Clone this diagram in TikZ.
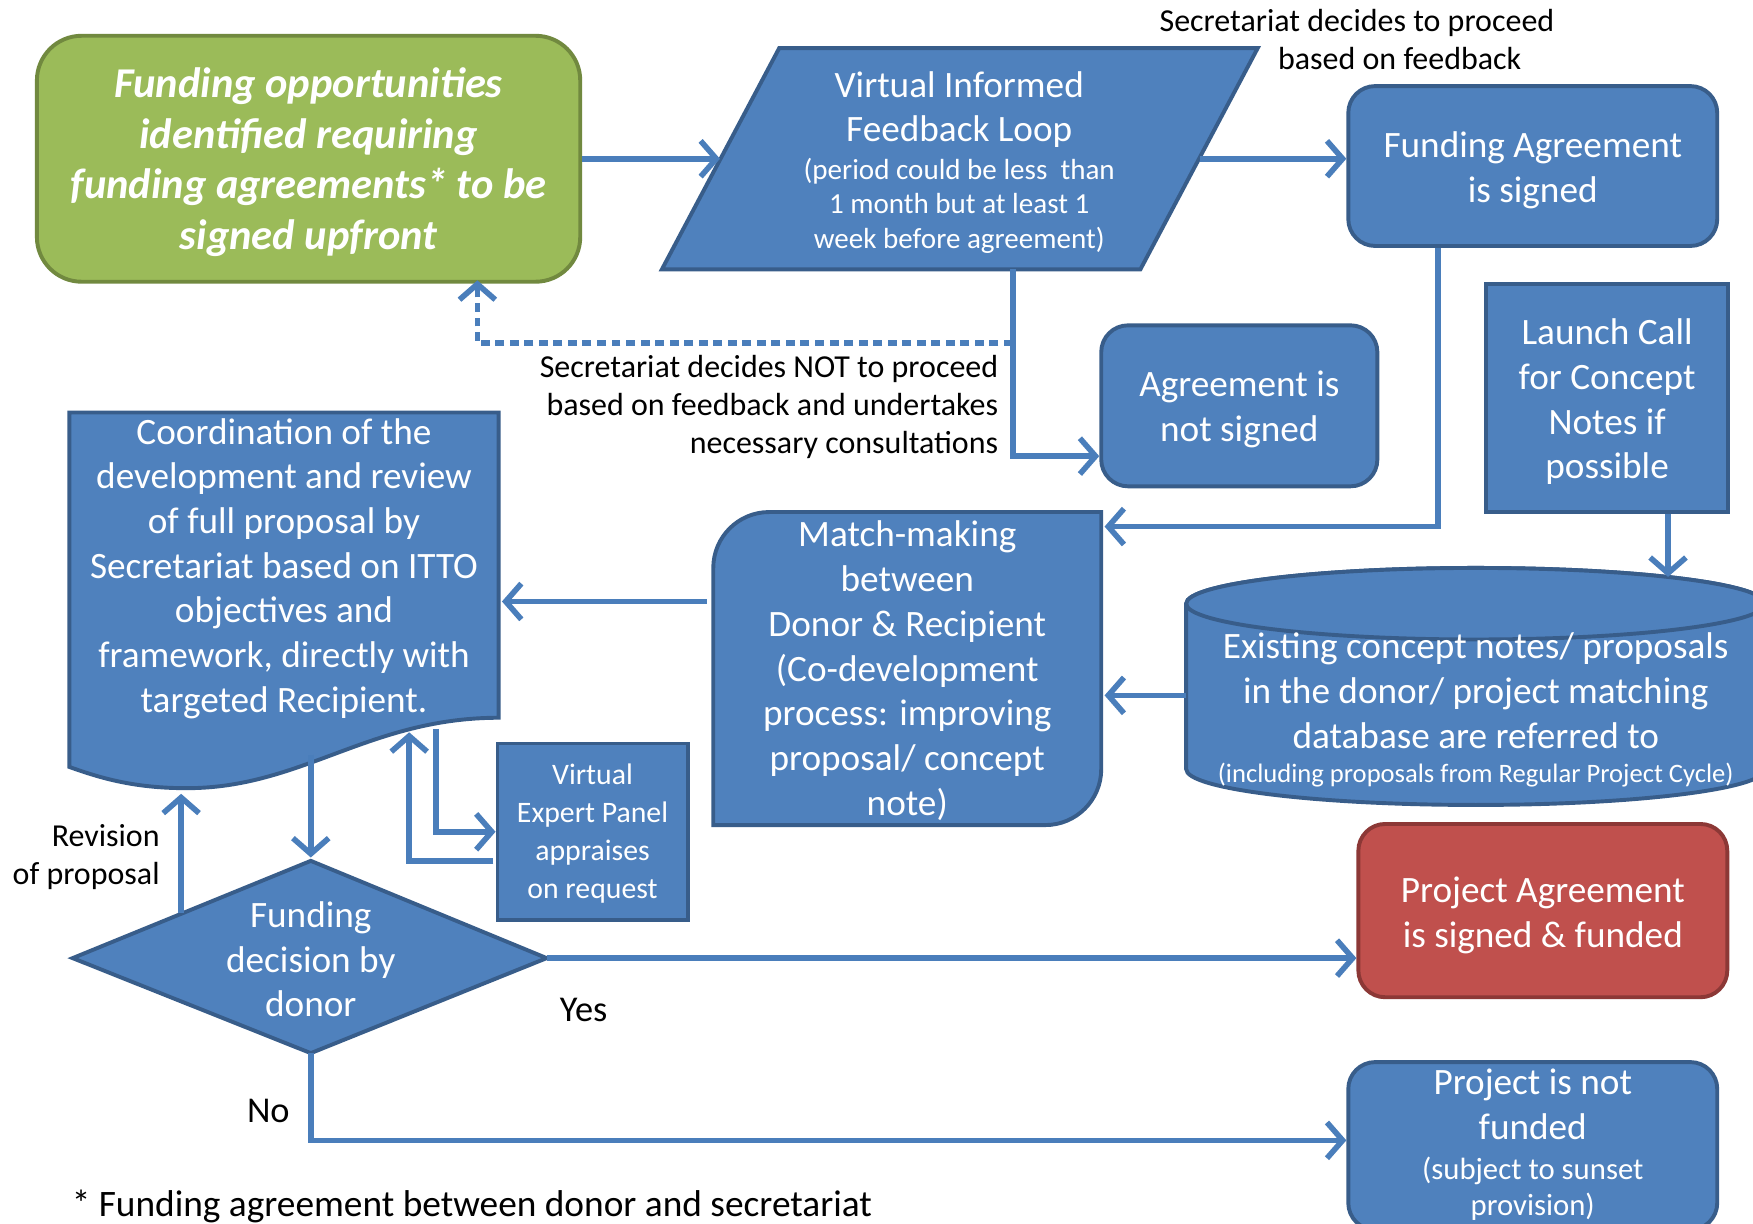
\documentclass[tikz,border=0pt]{standalone}
\usepackage{fontspec}
\setmainfont{Carlito}
\usetikzlibrary{arrows.meta,calc}
\definecolor{bfill}{HTML}{4F81BD}
\definecolor{bline}{HTML}{385D8A}
\definecolor{gfill}{HTML}{9BBB59}
\definecolor{gline}{HTML}{71893F}
\definecolor{rfill}{HTML}{C0504D}
\definecolor{rline}{HTML}{8C3836}
\definecolor{cline}{HTML}{4A7EBB}
\begin{document}
\begin{tikzpicture}[x=1pt,y=-1pt,
  shp/.style={draw=bline, fill=bfill, line width=3.5pt},
  box/.style={shp, text=white, align=center, inner sep=0pt},
  rbox/.style={box, rounded corners=24pt},
  big/.style={font=\fontsize{33.3}{40}\selectfont},
  wtxt/.style={text=white, align=center, inner sep=0pt},
  lbl/.style={text=black, inner sep=0pt, font=\fontsize{28.6}{34}\selectfont},
  conn/.style={draw=cline, line width=5pt, -{Straight Barb[length=14pt,width=32pt]}},
  dots/.style={conn, dash pattern=on 8pt off 5pt},
]
\fill[white] (0,0) rectangle (1568,1094);
\useasboundingbox (0,0) rectangle (1568,1094);
\clip (0,0) rectangle (1568,1094);

% green start box
\node[rbox, draw=gline, fill=gfill, rounded corners=40pt, minimum width=486pt, minimum height=220pt] (g) at (276,142) {};
\node[wtxt, font=\fontsize{38}{45.5}\selectfont\bfseries\itshape] (gt) at (276,145)
  {Funding opportunities\\identified requiring\\funding agreements* to be\\signed upfront};

% parallelogram
\draw[shp] (697,43) -- (1125,43) -- (1020,241) -- (592,241) -- cycle;
\node[wtxt, big] (pl) at (858,98) {Virtual Informed\\Feedback Loop};
\node[wtxt, font=\fontsize{26}{31}\selectfont] (pls) at (858,184)
  {(period could be less\ \ than\\1 month but at least 1\\week before agreement)};
\coordinate (plW) at (644,142);
\coordinate (plE) at (1073,142);
\coordinate (plS) at (906,241);
\coordinate (dj) at (906,307);

\node[lbl, align=left, anchor=north west] (lt) at (1037,8)
  {Secretariat decides to proceed\\\hspace*{106pt}based on feedback};
\node[lbl, align=right, anchor=east] (lno) at (893,364)
  {Secretariat decides NOT to proceed\\based on feedback and undertakes\\necessary consultations};

\node[rbox, minimum width=330pt, minimum height=143pt] (fa) at (1371,148.5) {};
\node[wtxt, big] (fat) at (1371,152.5) {Funding Agreement\\is signed};
\node[rbox, minimum width=247pt, minimum height=144pt] (ns) at (1108.5,363) {};
\node[wtxt, big] (nst) at (1108.5,366.5) {Agreement is\\not signed};
\node[box, minimum width=217pt, minimum height=204pt] (lc) at (1437.5,356) {};
\node[wtxt, big] (lct) at (1437.5,359.5) {Launch Call\\for Concept\\Notes if\\possible};

% cylinder
\draw[shp] (1061,540) -- (1061,688) arc[start angle=180, end angle=0, x radius=259, y radius=32]
  -- (1579,540) arc[start angle=0, end angle=-180, x radius=259, y radius=32] -- cycle;
\draw[shp] (1320,540) ellipse[x radius=259, y radius=32];
\node[wtxt, big] (db) at (1320,618) {Existing concept notes/ proposals\\in the donor/ project matching\\database are referred to};
\node[wtxt, font=\fontsize{23.8}{26}\selectfont] (dbs) at (1320,693) {(including proposals from Regular Project Cycle)};
\coordinate (dbW) at (1061,622);
\coordinate (dbTop) at (1492,516);

% match-making
\draw[shp] (638,738) [rounded corners=50pt]-- (638,458) [sharp corners]-- (985,458)
  [rounded corners=50pt]-- (985,738) [sharp corners]-- cycle;
\node[wtxt, big] (mm) at (811.5,600) {Match-making\\between\\Donor \& Recipient\\(Co-development\\process: improving\\proposal/ concept\\note)};
\coordinate (mmE1) at (988,471);
\coordinate (mmE2) at (988,622);
\coordinate (mmW) at (632,538);

% coordination document
\draw[shp] (62,369) -- (446,369) -- (446,642) .. controls (330,642) and (270,705) .. (167,705)
  .. controls (120,705) and (90,696) .. (62,686) -- cycle;
\node[wtxt, big] (cd) at (254,508.5) {Coordination of the\\development and review\\of full proposal by\\Secretariat based on ITTO\\objectives and\\framework, directly with\\targeted Recipient.};
\coordinate (cdE) at (449,538);
\coordinate (cdB1) at (278,675);
\coordinate (cdB2) at (162,710);
\coordinate (cdB3) at (390,652);
\coordinate (cdB4) at (366,655);

\node[box, minimum width=170pt, minimum height=158pt] (ep) at (530,744) {};
\node[wtxt, font=\fontsize{26.6}{34}\selectfont] (ept) at (530,746)
  {Virtual\\Expert Panel\\appraises\\on request};

% diamond
\draw[shp] (278,770) -- (489,857) -- (278,942) -- (65,857) -- cycle;
\node[wtxt, big] (dm) at (278,858) {Funding\\decision by\\donor};
\coordinate (dmT) at (278,767);
\coordinate (dmL) at (162,817);
\coordinate (dmR) at (489,857);
\coordinate (dmB) at (278,942);

\node[rbox, draw=rline, fill=rfill, minimum width=330pt, minimum height=155pt] (pa) at (1380,814.5) {};
\node[wtxt, big] (pat) at (1380,818.5) {Project Agreement\\is signed \& funded};

\node[rbox, minimum width=330pt, minimum height=150pt] (nf) at (1371,1025) {};
\node[wtxt, big] (nf1) at (1371,988) {Project is not\\funded};
\node[wtxt, font=\fontsize{27.5}{32}\selectfont] (nf2) at (1371,1063) {(subject to sunset\\provision)};

% labels
\node[lbl, font=\fontsize{32.5}{34}\selectfont] (yes) at (522,903) {Yes};
\node[lbl, font=\fontsize{32.5}{34}\selectfont] (no) at (240,994) {No};
\node[lbl, align=right, anchor=east] (rev) at (143,767) {Revision\\of proposal};
\node[lbl, font=\fontsize{33.4}{36}\selectfont, anchor=west] (fn) at (64,1079) {* Funding agreement between donor and secretariat};

% connectors
\draw[conn] (g.east |- plW) -- (plW);
\draw[conn] (plE) -- (plE -| fa.west);
\draw[conn] (plS) |- ($(ns.west)+(0,45)$);
\draw[dots] (dj) -| ($(g.south)+(151,-3)$);
\draw[conn] ($(fa.south)+(-85,0)$) |- (mmE1);
\draw[conn] (lc.south -| dbTop) -- (dbTop);
\draw[conn] (dbW) -- (mmE2);
\draw[conn] (mmW) -- (cdE);
\draw[conn] (cdB1) -- (dmT);
\draw[conn] (dmL) -- (cdB2);
\draw[conn] (cdB3) |- (ep.west);
\draw[conn] ($(ep.west)+(-2,26)$) -| (cdB4);
\draw[conn] (dmR) -- (dmR -| pa.west);
\draw[conn] (dmB) |- ($(nf.west)+(0,-5)$);
\end{tikzpicture}
\end{document}
